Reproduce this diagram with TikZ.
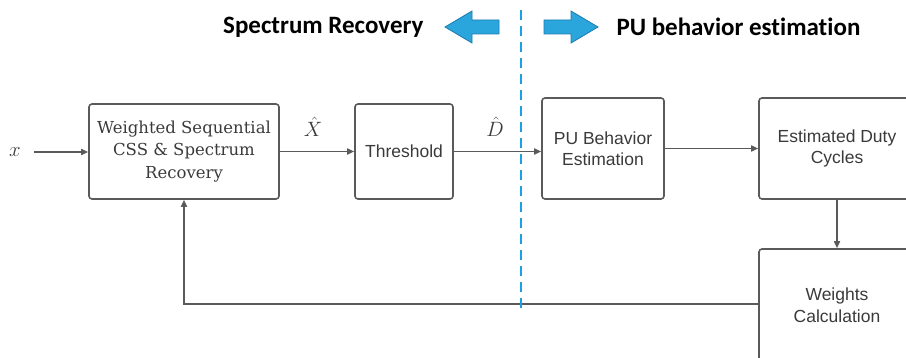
\documentclass[tikz,border=0pt]{standalone}
\usepackage{fontspec}
\usetikzlibrary{arrows.meta}
\newfontfamily\boxfont{Liberation Sans}
\newfontfamily\serifbox{DejaVu Serif}
\newfontfamily\headfont[Ligatures=NoCommon]{Carlito}
\definecolor{linegray}{HTML}{5A5A5A}
\definecolor{textgray}{HTML}{3A3A3A}
\definecolor{splitblue}{HTML}{1BA1E2}
\definecolor{arrowblue}{HTML}{2AA6DC}
\definecolor{arrowedge}{HTML}{1C7DB0}
\tikzset{
  blk/.style={draw=linegray, line width=1.6pt, rounded corners=3pt,
    text=textgray, align=center, inner sep=0pt},
  sansblk/.style={blk, font=\boxfont\fontsize{17.5}{21.5}\selectfont},
  flow/.style={draw=linegray, line width=1.6pt,
    -{Triangle[length=7pt,width=6pt]}},
  headtxt/.style={font=\headfont\bfseries\fontsize{25}{30}\selectfont},
  bigarrow/.style={fill=arrowblue, draw=arrowedge, line width=0.8pt},
  mathlbl/.style={font=\fontsize{20}{24}\selectfont, text=textgray, inner sep=1pt}
}
\begin{document}
\begin{tikzpicture}[x=1pt,y=-1pt]
\useasboundingbox (0,0) rectangle (906,358);
\clip (0,0) rectangle (906,358);

\node[headtxt, anchor=east] (srtitle) at (427,27) {Spectrum Recovery};
\node[headtxt, anchor=west] (putitle) at (613,27) {PU behavior estimation};
\draw[bigarrow] (445,27) -- (472,11) -- (472,20) -- (499,20) -- (499,34)
  -- (472,34) -- (472,43) -- cycle;
\draw[bigarrow] (598,27) -- (571,11) -- (571,20) -- (544,20) -- (544,34)
  -- (571,34) -- (571,43) -- cycle;

\node[mathlbl] (x) at (15,152) {$x$};
\node[blk, minimum width=190pt, minimum height=95pt,
  font=\serifbox\fontsize{16.5}{22.5}\selectfont] (css) at (184,151.5)
  {Weighted Sequential\\CSS \& Spectrum\\Recovery};
\node[sansblk, minimum width=98pt, minimum height=95pt] (thr) at (404,151.5) {Threshold};
\node[sansblk, minimum width=122pt, minimum height=101pt] (pu) at (603,148.5)
  {PU Behavior\\Estimation};
\node[sansblk, minimum width=156pt, minimum height=101pt] (duty) at (837,148.5)
  {Estimated Duty\\Cycles};
\node[sansblk, minimum width=156pt, minimum height=112pt] (wts) at (837,305)
  {Weights\\Calculation};

\node[mathlbl] (xhat) at (313,127) {$\hat{X}$};
\node[mathlbl] (dhat) at (495,127) {$\hat{D}$};

\draw[flow] (x.east) ++(12,0) coordinate (xs) -- (xs -| css.west);
\draw[flow] (css.east) -- (thr.west);
\draw[flow] (thr.east) -- (thr.east -| pu.west);
\draw[flow] (pu.east) -- (pu.east -| duty.west);
\draw[flow] (duty.south) -- (wts.north);
\draw[flow] (wts.west |- 0,304) -- (184,304) -- (css.south);

\draw[splitblue, line width=2.4pt, dash pattern=on 10pt off 6pt] (521,10) -- (521,312);
\end{tikzpicture}
\end{document}
